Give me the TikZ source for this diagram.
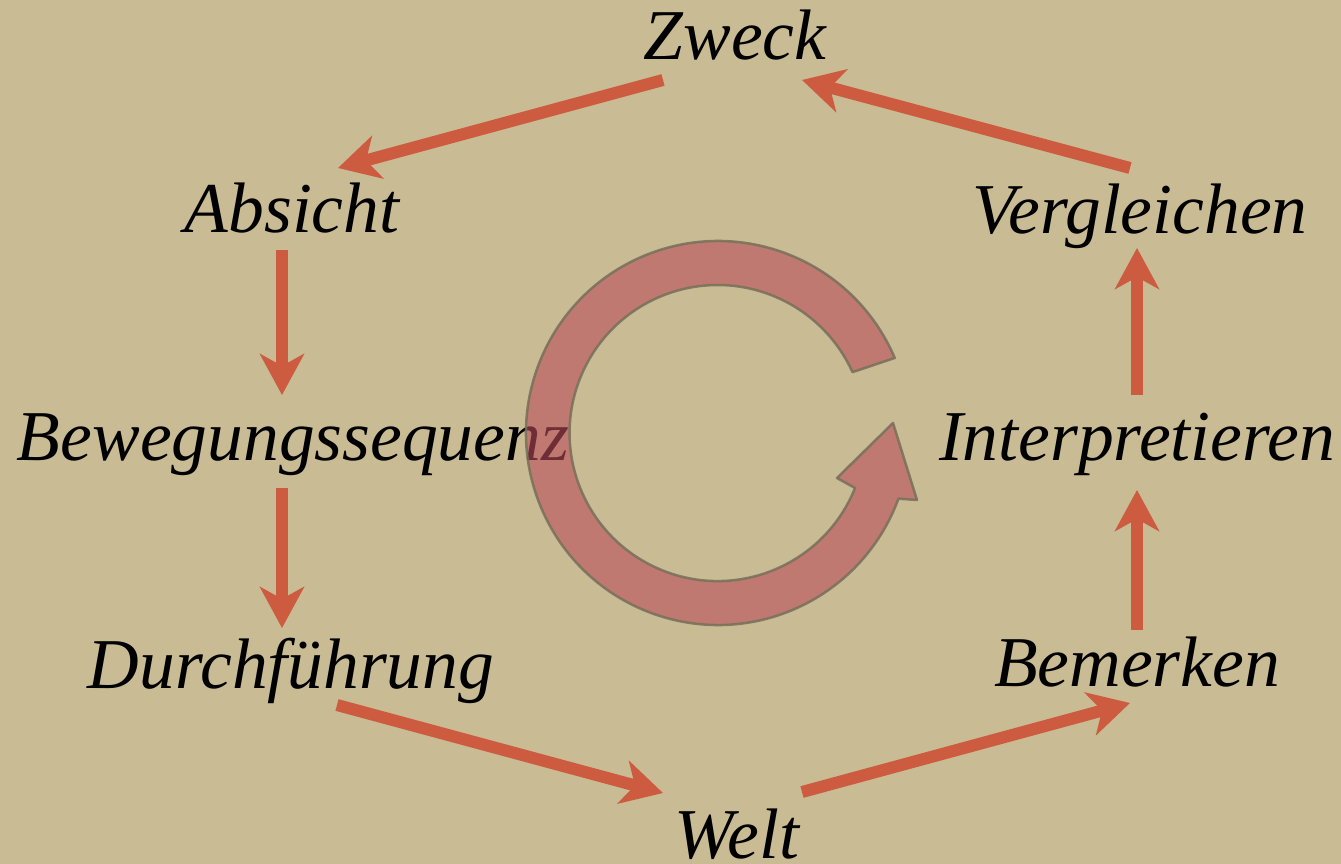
\documentclass[tikz,border=0pt]{standalone}
\usepackage{fontspec}
\setmainfont{Liberation Serif}
\usetikzlibrary{arrows.meta}
\definecolor{bgtan}{RGB}{201,187,148}
\definecolor{arrred}{RGB}{204,91,64}
\definecolor{ringred}{RGB}{185,78,91}
\definecolor{ringedge}{RGB}{118,112,90}
\tikzset{
  lbl/.style={anchor=base, inner sep=0pt, font=\fontsize{71.5}{84}\selectfont\itshape},
  arr/.style={draw=arrred, line width=12pt, -{Stealth[length=41pt,width=44pt,inset=12pt]}},
  ring/.style={fill=ringred, fill opacity=0.6, draw=ringedge, draw opacity=0.85, line width=2.5pt, line join=round}
}
\begin{document}
\begin{tikzpicture}[x=1pt,y=-1pt]
\fill[bgtan] (0,0) rectangle (1341,864);
\useasboundingbox (0,0) rectangle (1341,864);
\node[lbl] (zweck) at (735,60) {Zweck};
\node[lbl] (absicht) at (292,232) {Absicht};
\node[lbl] (vergl) at (1140,233) {Vergleichen};
\node[lbl] (bewe) at (293,460) {Bewegungssequenz};
\node[lbl] (interp) at (1137,460) {Interpretieren};
\node[lbl] (durch) at (291,688) {Durchführung};
\node[lbl] (bemerk) at (1137,686) {Bemerken};
\node[lbl] (welt) at (737,858) {Welt};
\draw[arr] ([shift={(-72,20)}]zweck.base) -- ([shift={(46,-64)}]absicht.base);
\draw[arr] ([shift={(-10,18)}]absicht.base) -- ([shift={(-11,-65)}]bewe.base);
\draw[arr] ([shift={(-11,28)}]bewe.base) -- ([shift={(-9,-60)}]durch.base);
\draw[arr] ([shift={(46,17)}]durch.base) -- ([shift={(-74,-65)}]welt.base);
\draw[arr] ([shift={(65,-66)}]welt.base) -- ([shift={(-7,17)}]bemerk.base);
\draw[arr] ([shift={(0,-56)}]bemerk.base) -- ([shift={(0,30)}]interp.base);
\draw[arr] ([shift={(0,-65)}]interp.base) -- ([shift={(-3,15)}]vergl.base);
\draw[arr] ([shift={(-10,-65)}]vergl.base) -- ([shift={(67,20)}]zweck.base);
\coordinate (c) at (718,433);
\path[ring] (c) ++(-23:192) arc[start angle=-23, end angle=-340, radius=192]
  -- (917,500) -- (893,423) -- (837,478) -- (855,488)
  arc[start angle=-338.2, end angle=-24.3, radius=148] -- cycle;
\end{tikzpicture}
\end{document}
